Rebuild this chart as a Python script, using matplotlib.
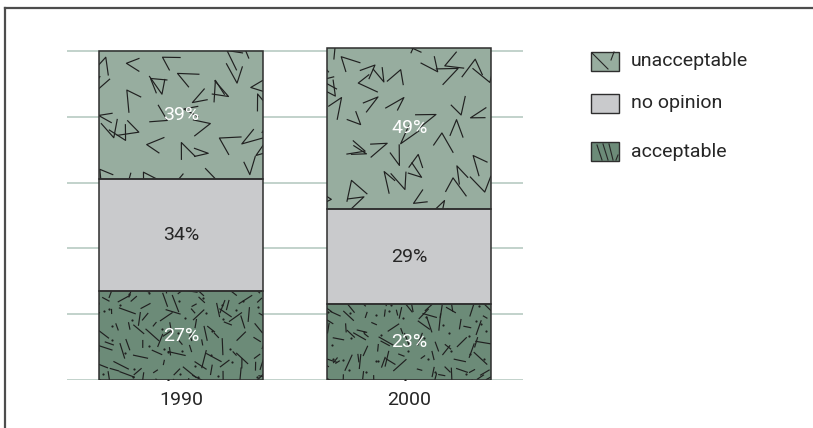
import numpy as np
import matplotlib
matplotlib.use("Agg")
import matplotlib.pyplot as plt
from matplotlib.patches import Rectangle
from matplotlib.lines import Line2D
from matplotlib.collections import LineCollection

# data (percent)
years = ["1990", "2000"]
acceptable = [27, 23]
no_opinion = [34, 29]
unacceptable = [39, 49]
series_names = ["unacceptable", "no opinion", "acceptable"]

# styling
FONT = ["Roboto", "DejaVu Sans"]
FS = 14
TXT = "#262626"
C_UNACC = "#97ad9f"
C_NOOP = "#c9cacc"
C_ACC = "#6c8b78"
GRID = "#b7cbc2"
W, H = 813, 428

plt.rcParams["font.family"] = FONT

fig = plt.figure(figsize=(W / 100, H / 100), dpi=100)
ax = fig.add_axes([67 / W, (H - 380) / H, 456.3 / W, 335.6 / H])
ax.set_xlim(-0.5, 1.5)
ax.set_ylim(0, 102)
ax.set_yticks(range(0, 101, 20))
ax.set_xticks([])
ax.yaxis.grid(True, color=GRID, lw=1.2)
ax.set_axisbelow(True)
ax.tick_params(left=False, labelleft=False)
for s in ax.spines.values():
    s.set_visible(False)

# pixels per data unit, for the texture strokes
p0 = ax.transData.transform((0, 0))
p1 = ax.transData.transform((1, 1))
sx, sy = p1[0] - p0[0], p1[1] - p0[1]

rng = np.random.default_rng(3)  # texture only, not data


def jitter_grid(wpx, hpx, cell):
    # evenly spread points: one per cell, shifted a bit
    pts = []
    for gx in np.arange(-cell / 2, wpx + cell / 2, cell):
        for gy in np.arange(-cell / 2, hpx + cell / 2, cell):
            pts.append((gx + rng.uniform(0, cell), gy + rng.uniform(0, cell)))
    return pts


def texture(rect, kind):
    x0, y0 = rect.get_x(), rect.get_y()
    wpx, hpx = rect.get_width() * sx, rect.get_height() * sy
    segs = []
    dots = []
    if kind == "v":
        for cx, cy in jitter_grid(wpx, hpx, 26):
            th = rng.uniform(0, 2 * np.pi)
            ph = np.radians(rng.uniform(30, 65))
            l1, l2 = rng.uniform(14, 23, 2)
            a = (cx + l1 * np.cos(th - ph / 2), cy + l1 * np.sin(th - ph / 2))
            b = (cx + l2 * np.cos(th + ph / 2), cy + l2 * np.sin(th + ph / 2))
            segs.append([a, (cx, cy), b])
    else:
        angles = [40, 140, 100, 160, 75]
        for cx, cy in jitter_grid(wpx, hpx, 13):
            th = np.radians(rng.choice(angles) + rng.uniform(-12, 12))
            l = rng.uniform(5, 19)
            dx, dy = l / 2 * np.cos(th), l / 2 * np.sin(th)
            segs.append([(cx - dx, cy - dy), (cx + dx, cy + dy)])
        dots = jitter_grid(wpx, hpx, 20)
    segs = [[(x0 + px / sx, y0 + py / sy) for px, py in s] for s in segs]
    lc = LineCollection(segs, colors="#202020", linewidths=0.85, zorder=3)
    ax.add_collection(lc)
    lc.set_clip_path(rect)
    if dots:
        d = np.array(dots)
        sc = ax.scatter(x0 + d[:, 0] / sx, y0 + d[:, 1] / sy, s=2.5, c="#202020", lw=0, zorder=3)
        sc.set_clip_path(rect)


x = np.arange(len(years))
width = 0.72
bottom2 = np.array(acceptable) + np.array(no_opinion)
layers = [
    (acceptable, np.zeros(len(years)), C_ACC, "dash", "white"),
    (no_opinion, np.array(acceptable), C_NOOP, None, TXT),
    (unacceptable, bottom2, C_UNACC, "v", "white"),
]
for vals, bottoms, col, kind, tcol in layers:
    bars = ax.bar(x, vals, width, bottom=bottoms, color=col, edgecolor="none", zorder=2)
    for rect, v in zip(bars, vals):
        if kind:
            texture(rect, kind)
        ax.text(rect.get_x() + rect.get_width() / 2, rect.get_y() + rect.get_height() / 2,
                f"{v}%", ha="center", va="center", color=tcol, fontsize=FS, zorder=5)
    # outline on top of the texture
    ax.bar(x, vals, width, bottom=bottoms, color="none", edgecolor="#2e2e2e", lw=1.1, zorder=4)

for xi, yr in zip(x, years):
    ax.text(xi, -6, yr, ha="center", va="center", color=TXT, fontsize=FS, clip_on=False)


# legend drawn in pixel space
def fx(px):
    return px / W


def fy(py):
    return 1 - py / H


legend_rows = [(series_names[0], C_UNACC, 61), (series_names[1], C_NOOP, 103), (series_names[2], C_ACC, 152)]
for name, col, yc in legend_rows:
    fig.add_artist(Rectangle((fx(591), fy(yc + 9.5)), 28 / W, 19 / H, transform=fig.transFigure,
                             facecolor=col, edgecolor="#2e2e2e", lw=1.0))
    fig.text(fx(631), fy(yc), name, ha="left", va="center", color=TXT, fontsize=FS)

# little strokes inside the textured legend boxes
leg_strokes = [
    [(592, 53), (608, 69)], [(614, 52), (611, 60)],
    [(597, 145), (602, 160)], [(603, 144), (608, 160)], [(609, 144), (613, 160)], [(618, 155), (616, 160)],
]
for (xa, ya), (xb, yb) in leg_strokes:
    fig.add_artist(Line2D([fx(xa), fx(xb)], [fy(ya), fy(yb)], transform=fig.transFigure,
                          color="#262626", lw=0.8))

# frame: top and left rule
fig.add_artist(Line2D([fx(5), fx(W)], [fy(8), fy(8)], transform=fig.transFigure, color="#4d4d4d", lw=1.6))
fig.add_artist(Line2D([fx(5), fx(5)], [fy(8), fy(H)], transform=fig.transFigure, color="#4d4d4d", lw=1.6))

fig.savefig("out.png", dpi=100)
